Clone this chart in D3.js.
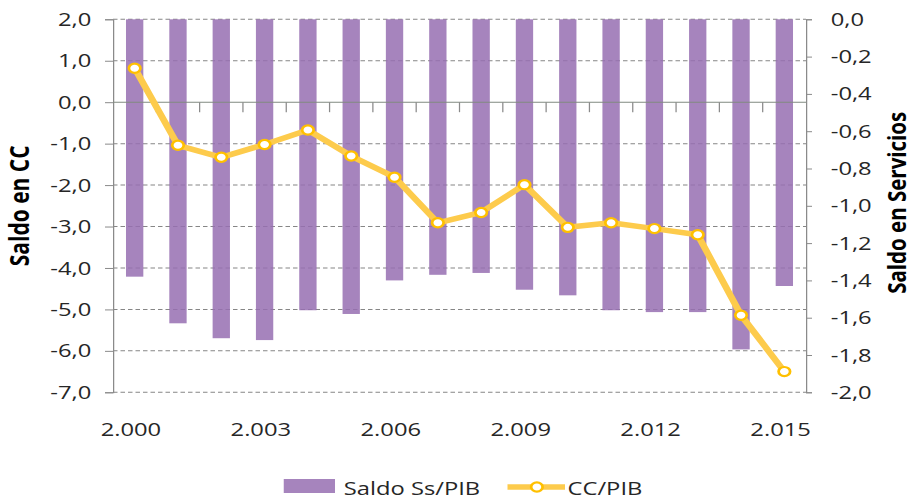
<!DOCTYPE html>
<html>
<head>
<meta charset="utf-8">
<script src="https://d3js.org/d3.v7.min.js"></script>
<style>
  body { margin: 0; background: #fff; }
  text { font-family: "Open Sans", sans-serif; }
</style>
</head>
<body>
<script>
// chart data
let years = [2000, 2001, 2002, 2003, 2004, 2005, 2006, 2007, 2008, 2009, 2010, 2011, 2012, 2013, 2014, 2015];
let saldoSs = [-1.38, -1.63, -1.71, -1.72, -1.56, -1.58, -1.40, -1.37, -1.36, -1.45, -1.48, -1.56, -1.57, -1.57, -1.77, -1.43];
let ccPib = [0.82, -1.04, -1.33, -1.02, -0.67, -1.30, -1.81, -2.91, -2.66, -1.99, -3.02, -2.91, -3.05, -3.20, -5.14, -6.50];
let leftTicks = [2, 1, 0, -1, -2, -3, -4, -5, -6, -7];
let rightTicks = [0, -0.2, -0.4, -0.6, -0.8, -1.0, -1.2, -1.4, -1.6, -1.8, -2.0];
let yearLabels = [2000, 2003, 2006, 2009, 2012, 2015];

let stretch = 1.25, // picture is wider than the drawing
  vw = 914 / stretch,
  vh = 504;
let plot = null;
let svg = null;
let x, yL, yR = null;

main();

function main() {
  setupCanvas();
  setupScales();
  appendGrid();
  appendBars();
  appendAxes();
  appendLine();
  appendTitles();
  appendLegend();
}

function setupCanvas() {
  plot = { left: 90.4, right: 644.8, top: 19.3, bottom: 392.3 };
  svg = d3.select("body").append("svg")
    .attr("width", 914)
    .attr("height", 504)
    .attr("viewBox", `0 0 ${vw} ${vh}`)
    .attr("preserveAspectRatio", "none");
}

function setupScales() {
  x = d3.scaleBand()
    .domain(years)
    .range([plot.left, plot.right])
    .paddingInner(0.6)
    .paddingOuter(0.3);
  yL = d3.scaleLinear().domain([-7, 2]).range([plot.bottom, plot.top]);
  yR = d3.scaleLinear().domain([-2, 0]).range([plot.bottom, plot.top]);
}

function fmt(d) {
  return d.toFixed(1).replace(".", ",");
}

function appendGrid() {
  svg.append("g").selectAll("line")
    .data(leftTicks.filter(d => d !== 0))
    .enter().append("line")
    .attr("x1", plot.left).attr("x2", plot.right)
    .attr("y1", d => yL(d)).attr("y2", d => yL(d))
    .attr("stroke", "#868686")
    .attr("stroke-width", 1)
    .attr("stroke-dasharray", "3.6,2.4");
}

function appendBars() {
  svg.append("g").selectAll("rect")
    .data(years)
    .enter().append("rect")
    .attr("x", d => x(d))
    .attr("width", x.bandwidth())
    .attr("y", yR(0))
    .attr("height", (d, i) => yR(saldoSs[i]) - yR(0))
    .attr("fill", "#966FB2")
    .attr("fill-opacity", 0.85);
}

function appendAxes() {
  let left = svg.append("g")
    .attr("transform", `translate(${plot.left},0)`)
    .call(d3.axisLeft(yL).tickValues(leftTicks).tickFormat(fmt).tickSize(6.4).tickPadding(11));
  let right = svg.append("g")
    .attr("transform", `translate(${plot.right},0)`)
    .call(d3.axisRight(yR).tickValues(rightTicks).tickFormat(fmt).tickSize(4.8).tickPadding(15));
  [left, right].forEach(g => {
    g.select(".domain").attr("stroke", "#8a8a8a");
    g.selectAll(".tick line").attr("stroke", "#8a8a8a");
    g.selectAll("text").attr("fill", "#262626").style("font-size", "19px");
  });

  // category axis sits on zero of the left scale
  let y0 = yL(0);
  svg.append("line")
    .attr("x1", plot.left).attr("x2", plot.right)
    .attr("y1", y0).attr("y2", y0)
    .attr("stroke", "#808a80").attr("stroke-width", 1);
  svg.append("g").selectAll("line")
    .data(years.slice(1))
    .enter().append("line")
    .attr("x1", d => x(d) - x.step() * x.paddingInner() / 2)
    .attr("x2", d => x(d) - x.step() * x.paddingInner() / 2)
    .attr("y1", y0).attr("y2", y0 + 10)
    .attr("stroke", "#8a8a8a");

  svg.append("g").selectAll("text")
    .data(yearLabels)
    .enter().append("text")
    .attr("x", d => x(d) + x.bandwidth() / 2 - 3)
    .attr("y", 429)
    .attr("dy", "0.35em")
    .attr("text-anchor", "middle")
    .attr("fill", "#262626")
    .style("font-size", "19px")
    .text(d => String(d).replace(/(\d)(\d{3})$/, "$1.$2"));
}

function appendLine() {
  let valueline = d3.line()
    .x((d, i) => x(years[i]) + x.bandwidth() / 2)
    .y(d => yL(d));
  svg.append("path")
    .datum(ccPib)
    .attr("d", valueline)
    .attr("fill", "none")
    .attr("stroke", "#FDCB4C")
    .attr("stroke-width", 5.5)
    .attr("stroke-linejoin", "round");
  svg.append("g").selectAll("circle")
    .data(ccPib)
    .enter().append("circle")
    .attr("cx", (d, i) => x(years[i]) + x.bandwidth() / 2)
    .attr("cy", d => yL(d))
    .attr("r", 4.6)
    .attr("fill", "#fff")
    .attr("stroke", "#FFC000")
    .attr("stroke-width", 2.2);
}

function appendTitles() {
  let mid = (plot.top + plot.bottom) / 2;
  svg.append("text")
    .attr("transform", `translate(15.5,${mid}) rotate(-90)`)
    .attr("text-anchor", "middle")
    .attr("dy", "0.35em")
    .style("font-size", "21px")
    .style("font-weight", "bold")
    .text("Saldo en CC");
  svg.append("text")
    .attr("transform", `translate(717.5,${mid - 3}) rotate(-90)`)
    .attr("text-anchor", "middle")
    .attr("dy", "0.35em")
    .style("font-size", "20.5px")
    .style("font-weight", "bold")
    .text("Saldo en Servicios");
}

function appendLegend() {
  let lg = svg.append("g");
  lg.append("rect")
    .attr("x", 227).attr("y", 479)
    .attr("width", 41).attr("height", 14)
    .attr("fill", "#966FB2").attr("fill-opacity", 0.85);
  lg.append("text")
    .attr("x", 275).attr("y", 488).attr("dy", "0.35em")
    .attr("fill", "#262626").style("font-size", "19px")
    .text("Saldo Ss/PIB");
  lg.append("line")
    .attr("x1", 406).attr("x2", 452)
    .attr("y1", 487).attr("y2", 487)
    .attr("stroke", "#FDCB4C").attr("stroke-width", 5.5);
  lg.append("circle")
    .attr("cx", 429.5).attr("cy", 487).attr("r", 4.6)
    .attr("fill", "#fff").attr("stroke", "#FFC000").attr("stroke-width", 2.2);
  lg.append("text")
    .attr("x", 454).attr("y", 488).attr("dy", "0.35em")
    .attr("fill", "#262626").style("font-size", "19px")
    .text("CC/PIB");
}
</script>
</body>
</html>
